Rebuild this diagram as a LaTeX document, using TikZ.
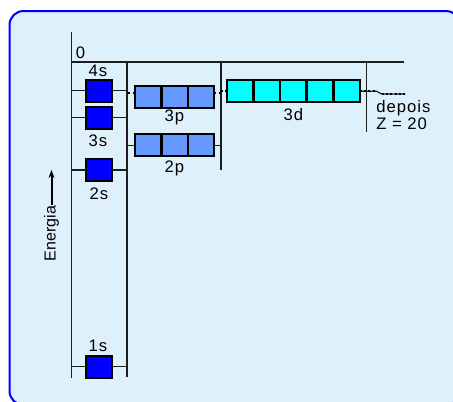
\documentclass[tikz,border=0pt]{standalone}
\usepackage{fontspec}
\setmainfont{Liberation Sans}[LetterSpace=6]
\newfontfamily\axisfont{Liberation Sans}[LetterSpace=1]
\usetikzlibrary{arrows.meta}
\definecolor{panelbg}{RGB}{222, 240, 250}
\definecolor{panelblue}{RGB}{0, 0, 255}
\definecolor{sblue}{RGB}{0, 0, 255}
\definecolor{pblue}{RGB}{102, 153, 255}
\definecolor{dcyan}{RGB}{0, 255, 255}
\definecolor{linegray}{RGB}{30, 30, 30}

\begin{document}
\begin{tikzpicture}[x=0.75pt, y=-0.75pt,
  orb/.style={draw=black, line width=1.5pt, minimum width=19.5pt, minimum height=16.5pt, inner sep=0pt, outer sep=0pt},
  sorb/.style={orb, fill=sblue},
  porb/.style={orb, fill=pblue},
  dorb/.style={orb, fill=dcyan},
  lbl/.style={font=\fontsize{12.5}{14}\selectfont, inner sep=0pt},
  level/.style={draw=linegray, line width=1.2pt},
  link/.style={draw=linegray, line width=0.9pt},
  samelvl/.style={draw=black, line width=1.6pt, dash pattern=on 1.6pt off 1.6pt}]

  % Panel
  \useasboundingbox (0,0) rectangle (453,401);
  \fill[white] (0,0) rectangle (453,401);
  \begin{scope}
    \clip (0,0) rectangle (453,401);
    \draw[panelblue, fill=panelbg, line width=1.5pt, rounded corners=10.5pt] (9.5,11) rectangle (460,405);
  \end{scope}

  % Frame lines
  \coordinate (col1top) at (71.5,32);   \coordinate (col1bot) at (71.5,378);
  \coordinate (col2top) at (127,62);    \coordinate (col2bot) at (127,377);
  \coordinate (col3top) at (221,62);    \coordinate (col3bot) at (221,170);
  \coordinate (col4top) at (366.5,62);  \coordinate (col4bot) at (366.5,132);
  \coordinate (rulel) at (71.5,62);     \coordinate (ruler) at (404,62);
  \draw[level] (col1top) -- (col1bot);
  \draw[level] (col2top) -- (col2bot);
  \draw[level] (col3top) -- (col3bot);
  \draw[level] (col4top) -- (col4bot);
  \draw[level] (rulel) -- (ruler);
  \node[lbl] (zero) at (80.5,53) {0};

  % s orbitals
  \node[sorb] (s4) at (98.5,90.5) {};
  \node[lbl] (s4lbl) at (98,71) {4s};
  \node[sorb] (s3) at (98.5,117.7) {};
  \node[lbl] (s3lbl) at (98,140.5) {3s};
  \node[sorb] (s2) at (98.5,170) {};
  \node[lbl] (s2lbl) at (99,193.5) {2s};
  \node[sorb] (s1) at (98.5,366.5) {};
  \node[lbl] (s1lbl) at (98,345.5) {1s};
  \draw[link] (s4.west) -- (s4.west -| col1top);
  \draw[link] (s4.east) -- (s4.east -| col2top);
  \draw[link] (s3.west) -- (s3.west -| col1top);
  \draw[link] (s3.east) -- (s3.east -| col2top);
  \draw[link] (s2.west) -- (s2.west -| col1top);
  \draw[link] (s2.east) -- (s2.east -| col2top);
  \draw[link] (s1.west) -- (s1.west -| col1top);
  \draw[link] (s1.east) -- (s1.east -| col2top);

  % p orbitals
  \node[porb] (p3a) at (147.7,96.8) {};
  \node[porb] (p3b) at (174.5,96.8) {};
  \node[porb] (p3c) at (201.3,96.8) {};
  \node[lbl] (p3lbl) at (174.5,117.5) {3p};
  \node[porb] (p2a) at (147.7,145.2) {};
  \node[porb] (p2b) at (174.5,145.2) {};
  \node[porb] (p2c) at (201.3,145.2) {};
  \node[lbl] (p2lbl) at (174.5,168.5) {2p};
  \coordinate (p3l) at ([yshift=3pt]p3a.west);
  \coordinate (p3r) at ([yshift=3pt]p3c.east);
  \draw[samelvl] (p3l) -- (p3l -| col2top);
  \draw[samelvl] (p3r) -- (p3r -| col3top);
  \draw[link] (p2a.west) -- (p2a.west -| col2top);
  \draw[link] (p2c.east) -- (p2c.east -| col3top);

  % d orbitals
  \node[dorb] (d3a) at (240,91.3) {};
  \node[dorb] (d3b) at (266.7,91.3) {};
  \node[dorb] (d3c) at (293.3,91.3) {};
  \node[dorb] (d3d) at (320,91.3) {};
  \node[dorb] (d3e) at (346.7,91.3) {};
  \node[lbl] (d3lbl) at (293.3,115) {3d};
  \draw[samelvl] (d3a.west) -- (d3a.west -| col3top);

  % after Z = 20
  \coordinate (zknee) at (376.7,91.3);
  \coordinate (zbend) at (381.7,94);
  \coordinate (zend) at (405,94);
  \draw[link] (d3e.east) -- (zknee) -- (zbend) -- (zend);
  \draw[samelvl] (d3e.east) -- (zknee);
  \draw[samelvl] (zbend) -- (zend);
  \node[lbl, anchor=west, align=left, font=\fontsize{12.5}{12.4}\selectfont] (zlbl) at (376,114.8) {depois\\Z = 20};

  % Energy axis
  \node[lbl, rotate=90, font=\axisfont\fontsize{12}{14}\selectfont] (energia) at (51.5,233.5) {Energia};
  \coordinate (eup) at (52.3,170);
  \draw[-{Stealth[length=6pt, width=4.5pt]}, line width=1.5pt] (energia.east) -- (energia.east |- eup);
\end{tikzpicture}
\end{document}
